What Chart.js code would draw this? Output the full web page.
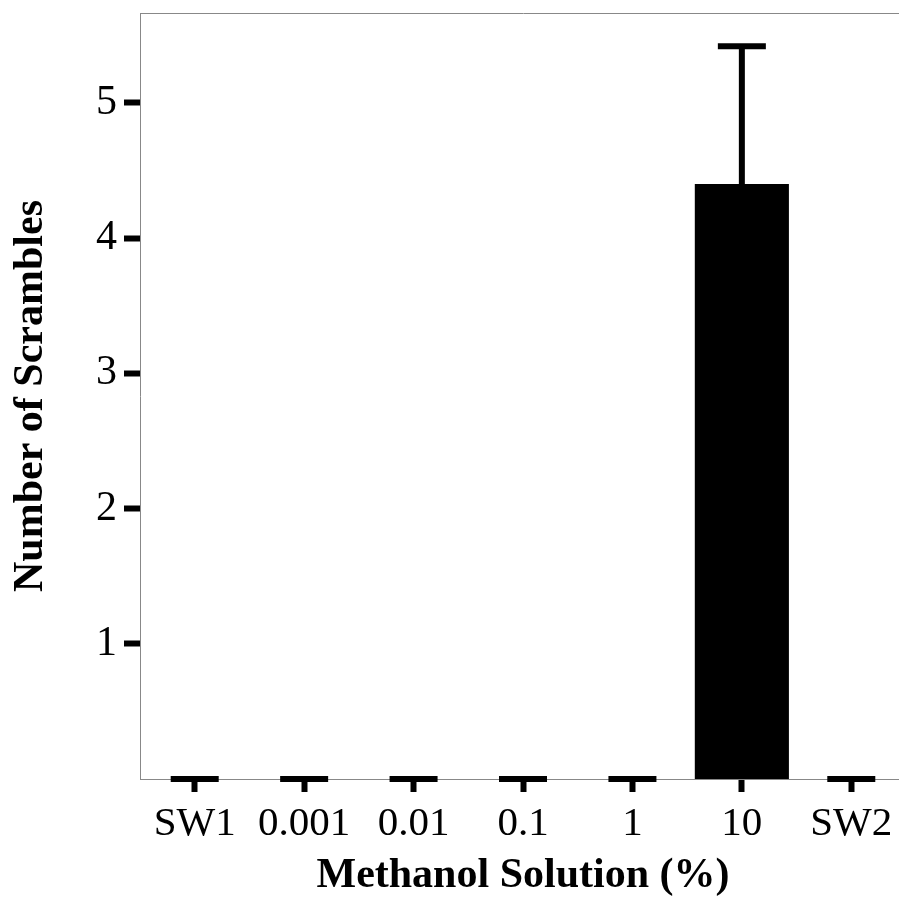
<!DOCTYPE html>
<html>
<head>
<meta charset="utf-8">
<script src="https://cdn.jsdelivr.net/npm/chart.js@4"></script>
<style>
  html, body { margin: 0; padding: 0; background: white; overflow: hidden; }
  #wrap { width: 899px; height: 910px; overflow: hidden; }
</style>
</head>
<body>
<div id="wrap"><canvas id="myChart" width="906" height="910"></canvas></div>
<script>
let categories = ['SW1', '0.001', '0.01', '0.1', '1', '10', 'SW2']
let means = [0, 0, 0, 0, 0, 4.4, 0]
let errors = [0, 0, 0, 0, 0, 1.02, 0]
let yTicks = [1, 2, 3, 4, 5]

let serif = "'Liberation Serif', 'Times New Roman', serif"

// error bars drawn from the dataset values through the scales
let errorBars = {
  id: 'errorBars',
  afterDatasetsDraw(chart) {
    let ctx = chart.ctx
    let x = chart.scales.x
    let y = chart.scales.y
    ctx.save()
    ctx.strokeStyle = 'black'
    ctx.lineWidth = 6
    means.forEach((m, i) => {
      let px = x.getPixelForValue(i)
      let base = y.getPixelForValue(m)
      let top = y.getPixelForValue(m + errors[i])
      if (errors[i] > 0) {
        ctx.beginPath()
        ctx.moveTo(px, base)
        ctx.lineTo(px, top)
        ctx.stroke()
      }
      ctx.beginPath()
      ctx.moveTo(px - 24, top)
      ctx.lineTo(px + 24, top)
      ctx.stroke()
    })
    ctx.restore()
  },
  beforeDatasetsDraw(chart) {
    let a = chart.chartArea
    let ctx = chart.ctx
    ctx.save()
    ctx.strokeStyle = '#888'
    ctx.lineWidth = 1
    ctx.beginPath()
    ctx.moveTo(a.left, a.top + 0.5)
    ctx.lineTo(a.right + 10, a.top + 0.5)
    ctx.stroke()
    ctx.restore()
  }
}

let myChart = document.getElementById('myChart').getContext('2d')
new Chart(myChart, {
  type: 'bar',
  data: {
    labels: categories,
    datasets: [
      {
        data: means,
        backgroundColor: 'black',
        borderWidth: 0,
        barPercentage: 0.86,
        categoryPercentage: 1
      }
    ]
  },
  options: {
    responsive: false,
    animation: false,
    layout: { padding: { top: 13, right: 0, bottom: 0, left: 0 } },
    plugins: { legend: { display: false }, tooltip: { enabled: false } },
    scales: {
      x: {
        grid: { drawOnChartArea: false, offset: false, tickLength: 13, tickWidth: 6, tickColor: 'black' },
        border: { color: '#888', width: 1 },
        ticks: { color: 'black', font: { family: serif, size: 41 }, padding: 8, maxRotation: 0, autoSkip: false },
        title: { display: true, text: 'Methanol Solution (%)', color: 'black', font: { family: serif, size: 42, weight: 'bold' }, padding: { bottom: 9 } },
        afterFit(s) { s.height = 131; s.paddingLeft = 0; s.paddingRight = 0 }
      },
      y: {
        min: 0,
        max: 5.665,
        afterBuildTicks(s) { s.ticks = yTicks.map((v) => ({ value: v })) },
        grid: { drawOnChartArea: false, tickLength: 16, tickWidth: 6, tickColor: 'black' },
        border: { color: '#888', width: 1 },
        ticks: { color: 'black', font: { family: serif, size: 42 }, padding: 7 },
        title: { display: true, text: 'Number of Scrambles', color: 'black', font: { family: serif, size: 42, weight: 'bold' }, padding: { top: 6 } },
        afterFit(s) { s.width = 140; s.paddingTop = 0; s.paddingBottom = 0 }
      }
    }
  },
  plugins: [errorBars]
})
</script>
</body>
</html>
